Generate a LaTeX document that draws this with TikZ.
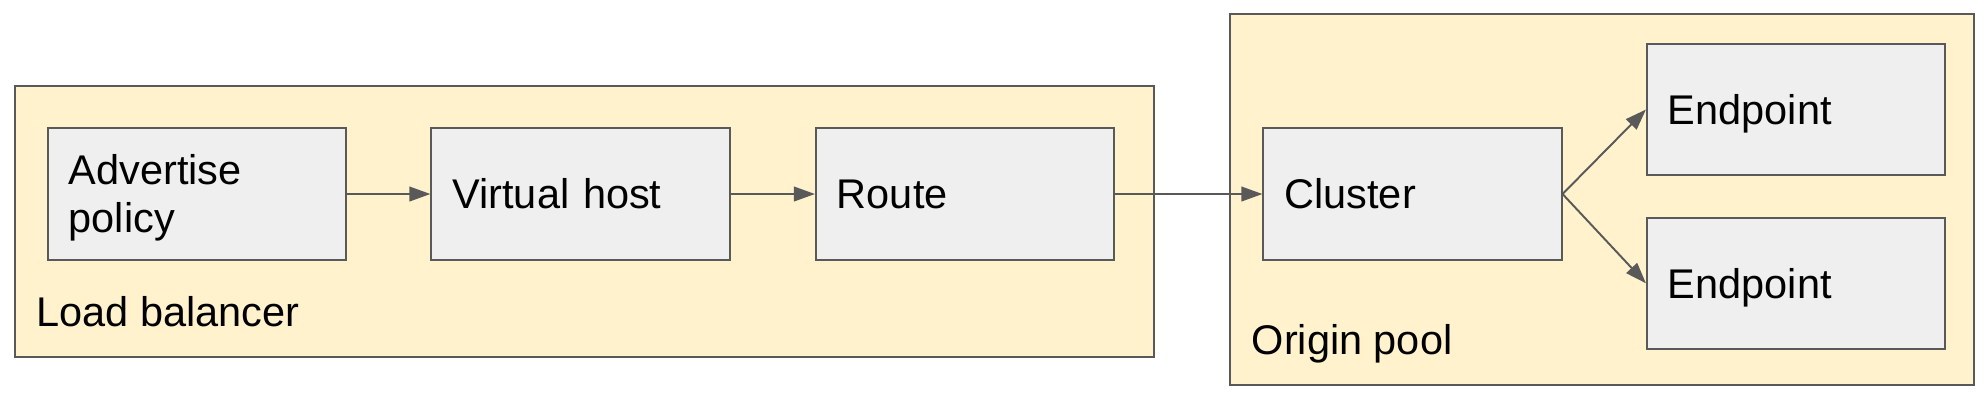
\documentclass[tikz,border=0pt]{standalone}
\usepackage{fontspec}
\setmainfont{Liberation Sans}
\usetikzlibrary{arrows.meta}
\definecolor{grpfill}{HTML}{FFF2CC}
\definecolor{boxfill}{HTML}{EFEFEF}
\definecolor{edgecol}{HTML}{595959}
\begin{document}
\begin{tikzpicture}[x=0.01cm,y=-0.01cm,
  group/.style={draw=edgecol, fill=grpfill, line width=0.55pt, inner sep=0pt},
  item/.style={draw=edgecol, fill=boxfill, line width=0.55pt, minimum width=2.98cm,
    minimum height=1.32cm, text width=2.56cm, inner xsep=0.21cm, inner ysep=0pt,
    align=left, text height=8.45pt, text depth=0pt, font=\fontsize{11.8pt}{13.66pt}\selectfont},
  twolines/.style={text depth=13.66pt},
  grouplabel/.style={anchor=base west, inner sep=0pt, font=\fontsize{11.8pt}{13.66pt}\selectfont},
  conn/.style={draw=edgecol, line width=0.55pt, -{Triangle[length=0.21cm,width=0.146cm]}}
]
\useasboundingbox (0,0) rectangle (1988,402);
\node[group, minimum width=11.384cm, minimum height=2.706cm] (lb) at (584.8,221.7) {};
\node[group, minimum width=7.44cm, minimum height=3.707cm] (op) at (1602,199.65) {};
\node[grouplabel] (lbl) at (36,326) {Load balancer};
\node[grouplabel] (opl) at (1251,354) {Origin pool};
\node[item, twolines] (adv) at (196.9,194) {\baselineskip=13.66pt Advertise\\policy};
\node[item] (vh) at (580.5,194) {Virtual host};
\node[item] (route) at (965,194) {Route};
\node[item] (cl) at (1412.5,194) {Cluster};
\node[item, minimum height=1.31cm] (ep1) at (1796,109.5) {Endpoint};
\node[item, minimum height=1.31cm] (ep2) at (1796,283.3) {Endpoint};
\draw[conn] (adv.east) -- (vh.west);
\draw[conn] (vh.east) -- (route.west);
\draw[conn] (route.east) -- (cl.west);
\draw[conn] (cl.east) -- (ep1.west);
\draw[conn] (cl.east) -- (ep2.west);
\end{tikzpicture}
\end{document}
